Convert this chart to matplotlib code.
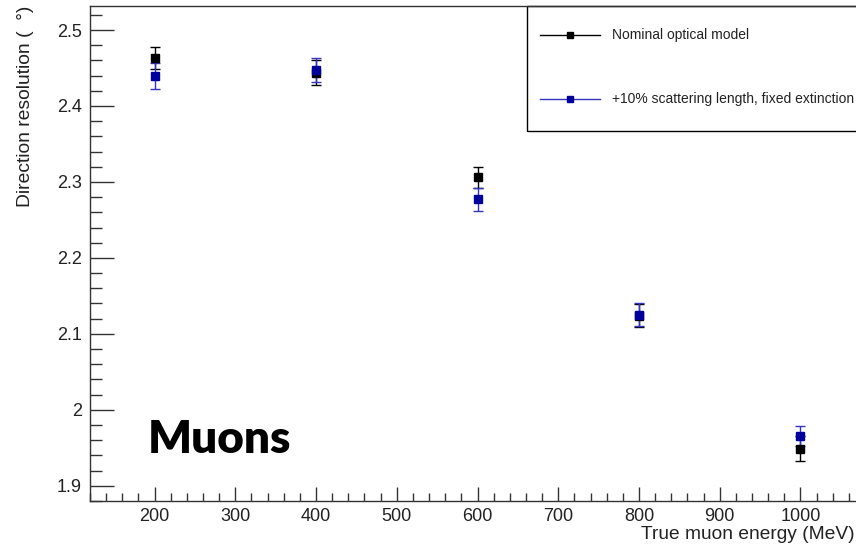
import matplotlib
matplotlib.use("Agg")
import matplotlib.pyplot as plt
from matplotlib.lines import Line2D
from matplotlib.patches import Rectangle
from matplotlib.ticker import MultipleLocator, FormatStrFormatter

plt.rcParams['font.family'] = ['Liberation Sans', 'DejaVu Sans']

# muon energies and direction resolution (degrees) for the two optical models
energy = [200, 400, 600, 800, 1000]
nominal = [2.463, 2.444, 2.306, 2.124, 1.949]
nominal_err = [0.014, 0.016, 0.014, 0.015, 0.016]
scatter10 = [2.440, 2.447, 2.277, 2.125, 1.966]
scatter10_err = [0.017, 0.016, 0.015, 0.015, 0.013]

labels = ['Nominal optical model', '+10% scattering length, fixed extinction']

black = '#000000'
navy = '#000099'
navy_line = '#3333bb'

fig = plt.figure(figsize=(8.56, 5.49), dpi=100)
ax = fig.add_axes([90 / 856, 1 - 501 / 549, 775 / 856, 495 / 549])

ax.errorbar(energy, nominal, yerr=nominal_err, fmt='s', color=black, ms=5.3,
            ecolor=black, elinewidth=1.0, capsize=3.5, capthick=1.0)
ax.errorbar(energy, scatter10, yerr=scatter10_err, fmt='s', color=navy, ms=5.3,
            ecolor=navy_line, elinewidth=1.0, capsize=3.5, capthick=1.0)

ax.set_xlim(120, 1080)
ax.set_ylim(1.880, 2.5316)

ax.xaxis.set_major_locator(MultipleLocator(100))
ax.xaxis.set_minor_locator(MultipleLocator(20))
ax.yaxis.set_major_locator(MultipleLocator(0.1))
ax.yaxis.set_minor_locator(MultipleLocator(0.02))
ax.yaxis.set_major_formatter(FormatStrFormatter('%g'))

ax.tick_params(axis='both', which='both', direction='in', color='#333333',
               labelcolor='#222222', labelsize=13, width=1.0)
ax.tick_params(axis='y', which='major', length=17, pad=6)
ax.tick_params(axis='y', which='minor', length=8.5)
ax.tick_params(axis='x', which='major', length=10, pad=5)
ax.tick_params(axis='x', which='minor', length=5.5)
ax.tick_params(top=False, right=False, which='both')

for s in ax.spines.values():
    s.set_color('#333333')
    s.set_linewidth(1.0)

ax.set_xlabel('True muon energy (MeV)', fontsize=13.8, color='#222222', ha='right')
ax.xaxis.set_label_coords(0.987, -0.050)
ax.set_ylabel('Direction resolution (  °)', fontsize=13.9, color='#222222', loc='top')
ax.yaxis.set_label_coords(-0.072, 1.0)

ax.text(191, 1.9434, 'Muons', fontfamily='Lato', fontweight='heavy', fontsize=33,
        color='black', ha='left', va='baseline')

# legend box drawn by hand, ROOT style
ax.add_patch(Rectangle((0.564, 0.7475), 0.6, 0.2525, transform=ax.transAxes,
                       fill=False, edgecolor='black', linewidth=1.0, clip_on=False))
rows = [(0.9414, black, black), (0.812, navy_line, navy)]
for (yy, lc, mc), lab in zip(rows, labels):
    ax.add_line(Line2D([0.5806, 0.658], [yy, yy], transform=ax.transAxes,
                       color=lc, linewidth=1.0, clip_on=False))
    ax.add_line(Line2D([0.619], [yy], transform=ax.transAxes, marker='s', ms=5,
                       color=mc, linestyle='none', clip_on=False))
    ax.text(0.6735, yy, lab, transform=ax.transAxes, fontsize=10.0,
            color='#222222', va='center', ha='left', clip_on=False)

fig.savefig('out.png', dpi=100)
